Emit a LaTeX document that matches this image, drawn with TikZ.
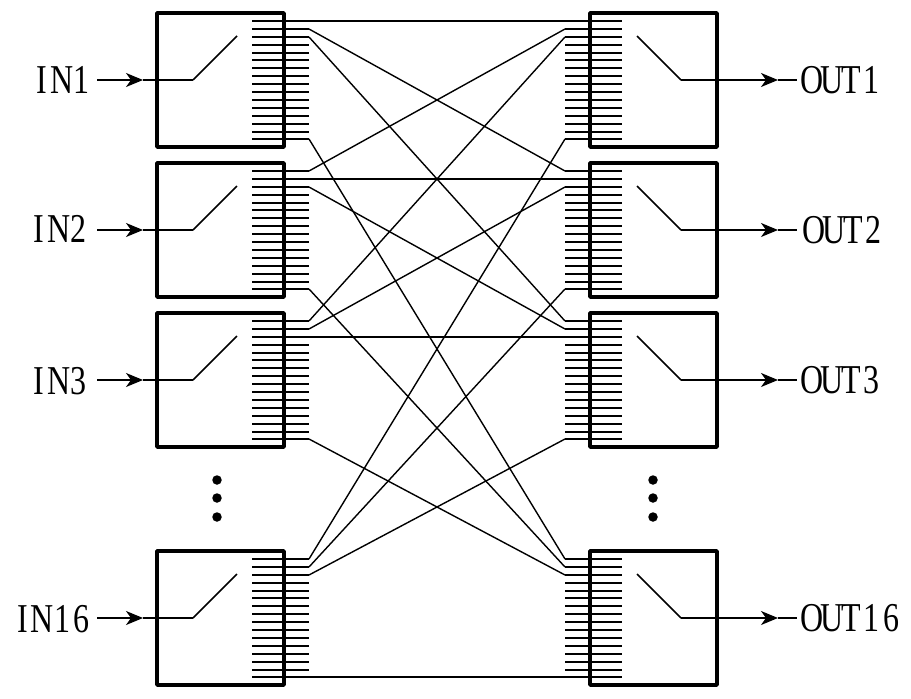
\documentclass[tikz,border=0pt]{standalone}
\usepackage{fontspec}
\setmainfont{Liberation Serif}
\usetikzlibrary{arrows.meta}
\newcommand{\cc}[1]{\makebox[25.4pt]{#1}}
\tikzset{
  boxnode/.style={draw,line width=3.4pt,line join=round,minimum width=127pt,minimum height=134pt,inner sep=0pt,outer sep=0pt},
  pinline/.style={line width=2pt},
  wire/.style={line width=1.4pt},
  switchline/.style={line width=1.5pt},
  tipline/.style={line width=1.5pt,-{Stealth[length=17pt,width=14pt,inset=5pt]}},
  lab/.style={inner sep=0pt,font=\fontsize{41}{41}\selectfont,xscale=0.78,transform shape},
  dotnode/.style={circle,fill=black,minimum size=9.5pt,inner sep=0pt}
}
\begin{document}
\begin{tikzpicture}[x=1pt,y=-1pt]
\useasboundingbox (0,0) rectangle (911,699);
% boxes, pins and switches: index, top edge, arrow row
\foreach \n/\t/\a in {1/13/80,2/163/230,3/313/380,16/551/618}{
  \node[boxnode] (L\n) at (220.5,\t+67) {};
  \node[boxnode] (R\n) at (653.5,\t+67) {};
  \foreach \p in {1,...,16}{
    \pgfmathsetmacro{\yy}{round(\t+8+(\p-1)*7.9)}
    \coordinate (L\n i\p) at (252,\yy);
    \coordinate (L\n o\p) at (309,\yy);
    \coordinate (R\n o\p) at (565,\yy);
    \coordinate (R\n i\p) at (622,\yy);
    \draw[pinline] (L\n i\p) -- (L\n o\p);
    \draw[pinline] (R\n o\p) -- (R\n i\p);
  }
  \coordinate (LP\n) at (193,\a);
  \coordinate (LC\n) at (237,\a-44);
  \coordinate (RP\n) at (681,\a);
  \coordinate (RC\n) at (637,\a-44);
  \draw[switchline] (LC\n) -- (LP\n);
  \draw[switchline] (RC\n) -- (RP\n);
  \coordinate (LS\n) at (97,\a);
  \coordinate (LT\n) at (143,\a);
  \coordinate (RT\n) at (778,\a);
  \coordinate (RE\n) at (797,\a);
  \draw[tipline] (LS\n) -- (LT\n);
  \draw[switchline] (LT\n) -- (LP\n);
  \draw[tipline] (RP\n) -- (RT\n);
  \draw[switchline] (RT\n) -- (RE\n);
}
% connectors
\foreach \a/\b/\c/\d in {
  1/1/1/1, 1/2/2/1, 1/3/3/1, 1/16/16/1,
  2/1/1/2, 2/2/2/2, 2/3/3/2, 2/16/16/2,
  3/1/1/3, 3/2/2/3, 3/3/3/3, 3/16/16/3,
  16/1/1/16, 16/2/2/16, 16/3/3/16, 16/16/16/16}{
  \draw[wire] (L\a o\b) -- (R\c o\d);
}
% labels
\node[lab,anchor=east] (in1) at (92,80) {\cc{I}\cc{N}\cc{1}};
\node[lab,anchor=east] (in2) at (89,229) {\cc{I}\cc{N}\cc{2}};
\node[lab,anchor=east] (in3) at (89,381) {\cc{I}\cc{N}\cc{3}};
\node[lab,anchor=east] (in16) at (92,619) {\cc{I}\cc{N}\cc{1}\cc{6}};
\node[lab,anchor=west] (out1) at (802,80) {\cc{O}\cc{U}\cc{T}\cc{1}};
\node[lab,anchor=west] (out2) at (804,230) {\cc{O}\cc{U}\cc{T}\cc{2}};
\node[lab,anchor=west] (out3) at (802,380) {\cc{O}\cc{U}\cc{T}\cc{3}};
\node[lab,anchor=west] (out16) at (802,618) {\cc{O}\cc{U}\cc{T}\cc{1}\cc{6}};
% ellipsis dots
\foreach \y [count=\i] in {480,498,517}{
  \node[dotnode] (dl\i) at (217,\y) {};
  \node[dotnode] (dr\i) at (653,\y) {};
}
\end{tikzpicture}
\end{document}
